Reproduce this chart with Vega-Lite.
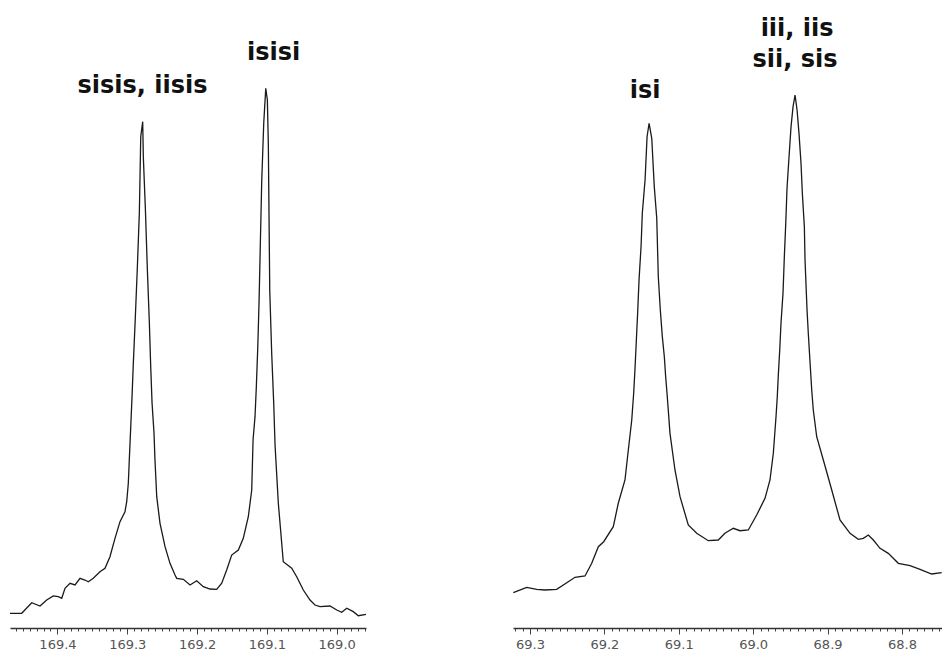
{
  "$schema": "https://vega.github.io/schema/vega-lite/v6.json",
  "padding": {"left": 7, "top": 0, "right": 0, "bottom": 0},
  "background": "white",
  "spacing": 141,
  "config": {
    "view": {"stroke": null},
    "axis": {"grid": false},
    "text": {"font": "DejaVu Sans", "fontWeight": "bold", "fontSize": 24, "color": "#111"}
  },
  "datasets": {
    "left": [
      {"ppm": 169.468, "I": 2.34}, {"ppm": 169.4512, "I": 2.34}, {"ppm": 169.4369, "I": 4.03}, {"ppm": 169.425, "I": 3.5},
      {"ppm": 169.4154, "I": 4.46}, {"ppm": 169.406, "I": 5.1}, {"ppm": 169.3988, "I": 4.98}, {"ppm": 169.3939, "I": 4.73},
      {"ppm": 169.3892, "I": 6.32}, {"ppm": 169.382, "I": 7.12}, {"ppm": 169.3749, "I": 6.85}, {"ppm": 169.3677, "I": 7.91},
      {"ppm": 169.3606, "I": 7.64}, {"ppm": 169.3558, "I": 7.37}, {"ppm": 169.3487, "I": 7.91}, {"ppm": 169.3391, "I": 8.96},
      {"ppm": 169.3319, "I": 9.51}, {"ppm": 169.3248, "I": 11.35}, {"ppm": 169.3176, "I": 14.28}, {"ppm": 169.3104, "I": 16.93},
      {"ppm": 169.3033, "I": 18.52}, {"ppm": 169.3008, "I": 20.11}, {"ppm": 169.2985, "I": 23.04}, {"ppm": 169.2971, "I": 26.75},
      {"ppm": 169.2951, "I": 31.85}, {"ppm": 169.2932, "I": 36.78}, {"ppm": 169.2913, "I": 42.2}, {"ppm": 169.2885, "I": 49.36},
      {"ppm": 169.2856, "I": 57.32}, {"ppm": 169.2827, "I": 66.08}, {"ppm": 169.2807, "I": 78.23}, {"ppm": 169.2779, "I": 80.62},
      {"ppm": 169.277, "I": 75.05}, {"ppm": 169.2741, "I": 66.88}, {"ppm": 169.2713, "I": 57.32}, {"ppm": 169.2684, "I": 48.73},
      {"ppm": 169.2664, "I": 41.56}, {"ppm": 169.2645, "I": 35.83}, {"ppm": 169.2617, "I": 31.05}, {"ppm": 169.2603, "I": 26.75},
      {"ppm": 169.2578, "I": 20.91}, {"ppm": 169.2531, "I": 16.67}, {"ppm": 169.2459, "I": 12.95}, {"ppm": 169.2388, "I": 10.3},
      {"ppm": 169.2316, "I": 8.44}, {"ppm": 169.2292, "I": 7.91}, {"ppm": 169.2197, "I": 7.75}, {"ppm": 169.2101, "I": 6.85},
      {"ppm": 169.2005, "I": 7.53}, {"ppm": 169.1911, "I": 6.58}, {"ppm": 169.1815, "I": 6.21}, {"ppm": 169.1719, "I": 6.16},
      {"ppm": 169.1647, "I": 7.12}, {"ppm": 169.1576, "I": 9.24}, {"ppm": 169.1504, "I": 11.62}, {"ppm": 169.1409, "I": 12.42},
      {"ppm": 169.1338, "I": 14.28}, {"ppm": 169.1266, "I": 17.72}, {"ppm": 169.1217, "I": 21.97}, {"ppm": 169.1198, "I": 29.94},
      {"ppm": 169.117, "I": 33.65}, {"ppm": 169.1151, "I": 38.42}, {"ppm": 169.1131, "I": 44.54}, {"ppm": 169.1112, "I": 51.96},
      {"ppm": 169.1094, "I": 60.99}, {"ppm": 169.1074, "I": 71.07}, {"ppm": 169.1045, "I": 80.37}, {"ppm": 169.1016, "I": 85.94},
      {"ppm": 169.0993, "I": 84.08}, {"ppm": 169.0979, "I": 76.91}, {"ppm": 169.0959, "I": 53.82}, {"ppm": 169.0931, "I": 43.74},
      {"ppm": 169.0902, "I": 35.78}, {"ppm": 169.0883, "I": 29.14}, {"ppm": 169.0836, "I": 19.86}, {"ppm": 169.0765, "I": 10.56},
      {"ppm": 169.0644, "I": 9.51}, {"ppm": 169.0573, "I": 8.17}, {"ppm": 169.0478, "I": 6.05}, {"ppm": 169.0382, "I": 4.46},
      {"ppm": 169.0311, "I": 3.66}, {"ppm": 169.0239, "I": 3.39}, {"ppm": 169.0096, "I": 3.5}, {"ppm": 168.9999, "I": 2.87},
      {"ppm": 168.9928, "I": 2.5}, {"ppm": 168.9856, "I": 3.14}, {"ppm": 168.9762, "I": 2.6}, {"ppm": 168.969, "I": 1.96},
      {"ppm": 168.958, "I": 2.18}
    ],
    "right": [
      {"ppm": 69.3224, "I": 5.62}, {"ppm": 69.3044, "I": 6.48}, {"ppm": 69.2909, "I": 6.16}, {"ppm": 69.2798, "I": 6.05},
      {"ppm": 69.2641, "I": 6.16}, {"ppm": 69.2485, "I": 7.37}, {"ppm": 69.2395, "I": 8.07}, {"ppm": 69.226, "I": 8.28},
      {"ppm": 69.217, "I": 10.3}, {"ppm": 69.2081, "I": 12.95}, {"ppm": 69.2009, "I": 13.74}, {"ppm": 69.188, "I": 16.13},
      {"ppm": 69.1813, "I": 19.86}, {"ppm": 69.1723, "I": 23.57}, {"ppm": 69.1678, "I": 28.34}, {"ppm": 69.1632, "I": 33.12},
      {"ppm": 69.1606, "I": 37.37}, {"ppm": 69.1588, "I": 41.35}, {"ppm": 69.1571, "I": 45.59}, {"ppm": 69.1552, "I": 50.37},
      {"ppm": 69.1534, "I": 55.41}, {"ppm": 69.1507, "I": 60.72}, {"ppm": 69.149, "I": 66.04}, {"ppm": 69.1453, "I": 71.34},
      {"ppm": 69.1426, "I": 78.23}, {"ppm": 69.1399, "I": 80.37}, {"ppm": 69.1363, "I": 77.98}, {"ppm": 69.1329, "I": 70.27},
      {"ppm": 69.1296, "I": 65.24}, {"ppm": 69.1275, "I": 55.94}, {"ppm": 69.1248, "I": 50.64}, {"ppm": 69.1221, "I": 46.39},
      {"ppm": 69.1194, "I": 43.2}, {"ppm": 69.1176, "I": 40.02}, {"ppm": 69.1158, "I": 37.37}, {"ppm": 69.1141, "I": 34.71},
      {"ppm": 69.1118, "I": 31.0}, {"ppm": 69.1051, "I": 25.16}, {"ppm": 69.0983, "I": 20.91}, {"ppm": 69.0872, "I": 16.4},
      {"ppm": 69.0759, "I": 15.08}, {"ppm": 69.0603, "I": 13.9}, {"ppm": 69.0469, "I": 14.01}, {"ppm": 69.038, "I": 15.08},
      {"ppm": 69.0267, "I": 15.88}, {"ppm": 69.0177, "I": 15.49}, {"ppm": 69.0065, "I": 15.61}, {"ppm": 68.9953, "I": 17.99},
      {"ppm": 68.9841, "I": 20.65}, {"ppm": 68.9774, "I": 23.57}, {"ppm": 68.9729, "I": 27.82}, {"ppm": 68.9693, "I": 33.65},
      {"ppm": 68.9676, "I": 36.83}, {"ppm": 68.9662, "I": 40.29}, {"ppm": 68.9643, "I": 44.27}, {"ppm": 68.9626, "I": 48.52},
      {"ppm": 68.9599, "I": 53.3}, {"ppm": 68.9581, "I": 59.12}, {"ppm": 68.9562, "I": 64.44}, {"ppm": 68.9545, "I": 70.02},
      {"ppm": 68.9518, "I": 75.05}, {"ppm": 68.9491, "I": 79.83}, {"ppm": 68.9464, "I": 83.01}, {"ppm": 68.9437, "I": 84.87},
      {"ppm": 68.941, "I": 82.48}, {"ppm": 68.9384, "I": 78.77}, {"ppm": 68.9357, "I": 74.0}, {"ppm": 68.9339, "I": 69.22},
      {"ppm": 68.9312, "I": 63.9}, {"ppm": 68.9303, "I": 58.6}, {"ppm": 68.9276, "I": 50.64}, {"ppm": 68.9259, "I": 46.93},
      {"ppm": 68.9232, "I": 41.61}, {"ppm": 68.9213, "I": 37.9}, {"ppm": 68.9192, "I": 34.71}, {"ppm": 68.9146, "I": 30.46},
      {"ppm": 68.9057, "I": 26.75}, {"ppm": 68.8944, "I": 21.97}, {"ppm": 68.8833, "I": 17.2}, {"ppm": 68.8698, "I": 15.08},
      {"ppm": 68.8587, "I": 14.12}, {"ppm": 68.852, "I": 14.28}, {"ppm": 68.8452, "I": 14.81}, {"ppm": 68.8385, "I": 14.01},
      {"ppm": 68.8295, "I": 12.69}, {"ppm": 68.8184, "I": 11.89}, {"ppm": 68.8049, "I": 10.3}, {"ppm": 68.7892, "I": 9.92},
      {"ppm": 68.7757, "I": 9.35}, {"ppm": 68.7601, "I": 8.6}, {"ppm": 68.7466, "I": 8.81}
    ],
    "leftLabels": [
      {"ppm": 169.2782, "I": 85.14, "label": "sisis, iisis"},
      {"ppm": 169.0902, "I": 90.45, "label": "isisi"}
    ],
    "rightLabels": [
      {"ppm": 69.1451, "I": 84.35, "label": "isi"},
      {"ppm": 68.941, "I": 94.27, "label": "iii, iis"},
      {"ppm": 68.9438, "I": 89.39, "label": "sii, sis"}
    ]
  },
  "hconcat": [
    {
      "width": 356,
      "height": 628,
      "layer": [
        {
          "data": {"name": "left"},
          "mark": {"type": "line", "color": "#1a1a1a", "strokeWidth": 1.3},
          "encoding": {
            "x": {
              "field": "ppm", "type": "quantitative",
              "scale": {"domain": [168.958, 169.468], "reverse": true, "nice": false, "zero": false},
              "axis": {
                "title": null,
                "tickCount": 500,
                "values": [168.96, 168.97, 168.98, 168.99, 169.0, 169.01, 169.02, 169.03, 169.04, 169.05, 169.06, 169.07, 169.08, 169.09, 169.1, 169.11, 169.12, 169.13, 169.14, 169.15, 169.16, 169.17, 169.18, 169.19, 169.2, 169.21, 169.22, 169.23, 169.24, 169.25, 169.26, 169.27, 169.28, 169.29, 169.3, 169.31, 169.32, 169.33, 169.34, 169.35, 169.36, 169.37, 169.38, 169.39, 169.4, 169.41, 169.42, 169.43, 169.44, 169.45, 169.46],
                "labelExpr": "abs(datum.value*10 - round(datum.value*10)) < 0.001 ? format(datum.value, '.1f') : ''",
                "tickSize": {"condition": {"test": "abs(datum.value*10 - round(datum.value*10)) < 0.001", "value": 6}, "value": 3},
                "labelOverlap": false,
                "labelBound": false,
                "labelFlush": false,
                "labelFont": "DejaVu Sans",
                "labelFontSize": 13,
                "labelColor": "#555",
                "labelPadding": 4,
                "domainColor": "#333",
                "domainWidth": 1.5,
                "tickColor": "#444",
                "tickWidth": 1
              }
            },
            "y": {
              "field": "I", "type": "quantitative",
              "scale": {"domain": [0, 100], "nice": false},
              "axis": null
            }
          }
        },
        {
          "data": {"name": "leftLabels"},
          "mark": {"type": "text", "align": "center", "baseline": "alphabetic"},
          "encoding": {
            "x": {"field": "ppm", "type": "quantitative"},
            "y": {"field": "I", "type": "quantitative"},
            "text": {"field": "label"}
          }
        }
      ]
    },
    {
      "width": 429,
      "height": 628,
      "layer": [
        {
          "data": {"name": "right"},
          "mark": {"type": "line", "color": "#1a1a1a", "strokeWidth": 1.3},
          "encoding": {
            "x": {
              "field": "ppm", "type": "quantitative",
              "scale": {"domain": [68.7462, 69.3228], "reverse": true, "nice": false, "zero": false},
              "axis": {
                "title": null,
                "tickCount": 500,
                "values": [68.75, 68.76, 68.77, 68.78, 68.79, 68.8, 68.81, 68.82, 68.83, 68.84, 68.85, 68.86, 68.87, 68.88, 68.89, 68.9, 68.91, 68.92, 68.93, 68.94, 68.95, 68.96, 68.97, 68.98, 68.99, 69.0, 69.01, 69.02, 69.03, 69.04, 69.05, 69.06, 69.07, 69.08, 69.09, 69.1, 69.11, 69.12, 69.13, 69.14, 69.15, 69.16, 69.17, 69.18, 69.19, 69.2, 69.21, 69.22, 69.23, 69.24, 69.25, 69.26, 69.27, 69.28, 69.29, 69.3, 69.31, 69.32],
                "labelExpr": "abs(datum.value*10 - round(datum.value*10)) < 0.001 ? format(datum.value, '.1f') : ''",
                "tickSize": {"condition": {"test": "abs(datum.value*10 - round(datum.value*10)) < 0.001", "value": 6}, "value": 3},
                "labelOverlap": false,
                "labelBound": false,
                "labelFlush": false,
                "labelFont": "DejaVu Sans",
                "labelFontSize": 13,
                "labelColor": "#555",
                "labelPadding": 4,
                "domainColor": "#333",
                "domainWidth": 1.5,
                "tickColor": "#444",
                "tickWidth": 1
              }
            },
            "y": {
              "field": "I", "type": "quantitative",
              "scale": {"domain": [0, 100], "nice": false},
              "axis": null
            }
          }
        },
        {
          "data": {"name": "rightLabels"},
          "mark": {"type": "text", "align": "center", "baseline": "alphabetic"},
          "encoding": {
            "x": {"field": "ppm", "type": "quantitative"},
            "y": {"field": "I", "type": "quantitative"},
            "text": {"field": "label"}
          }
        }
      ]
    }
  ]
}
